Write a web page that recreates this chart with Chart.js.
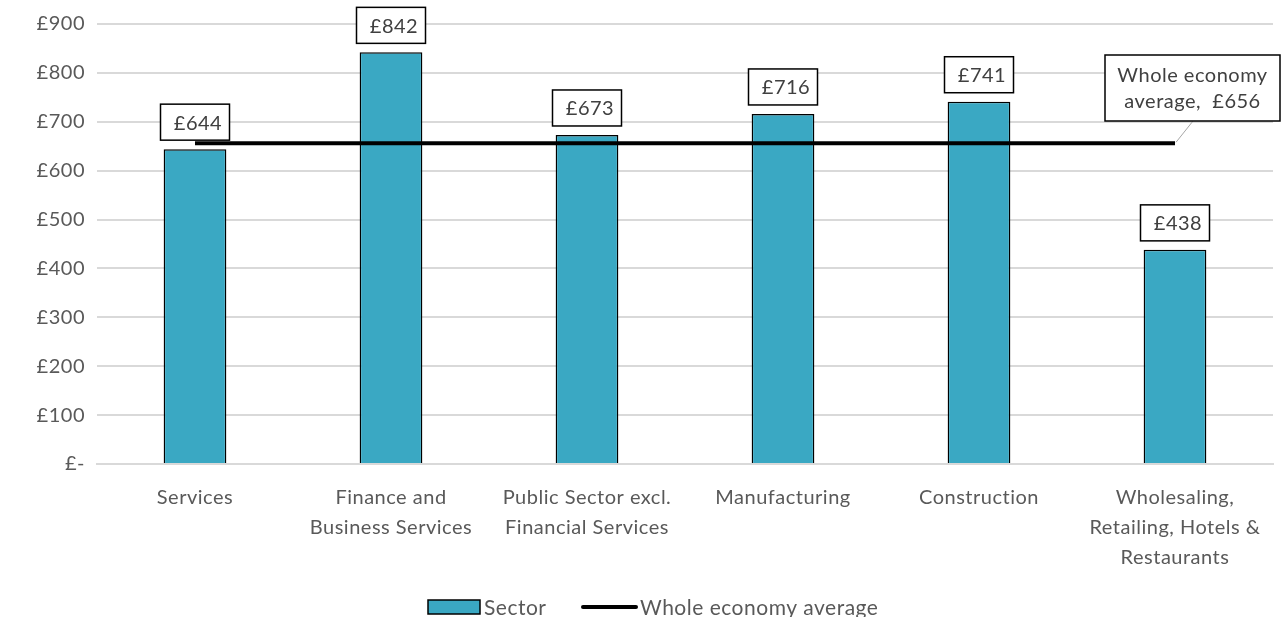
<!DOCTYPE html>
<html>
<head>
<meta charset="utf-8">
<script src="https://cdn.jsdelivr.net/npm/chart.js@4"></script>
<style>
  html, body { margin: 0; padding: 0; background: #fff; }
  #wrap { width: 1287px; height: 617px; }
</style>
</head>
<body>
<div id="wrap"><canvas id="myChart" width="1287" height="617"></canvas></div>
<script>
const categories = [
  'Services',
  ['Finance and', 'Business Services'],
  ['Public Sector excl.', 'Financial Services'],
  'Manufacturing',
  'Construction',
  ['Wholesaling,', 'Retailing, Hotels &', 'Restaurants']
];
const sectorPay = [644, 842, 673, 716, 741, 438];
const wholeEconomy = [656, 656, 656, 656, 656, 656];
const averageLabel = ['Whole economy', 'average,  £656'];

const FONT = 'Lato, "Liberation Sans", sans-serif';
const TEAL = '#3aa8c3';
const SPACING = '0.5px';

const spacing = {
  id: 'spacing',
  beforeInit(chart) { chart.ctx.letterSpacing = SPACING; },
  beforeDraw(chart) { chart.ctx.letterSpacing = SPACING; }
};

const boxedLabels = {
  id: 'boxedLabels',
  afterDatasetsDraw(chart) {
    const ctx = chart.ctx;
    ctx.save();
    ctx.letterSpacing = SPACING;
    ctx.font = '20px ' + FONT;
    ctx.textAlign = 'center';
    ctx.textBaseline = 'middle';
    chart.getDatasetMeta(0).data.forEach((bar, i) => {
      const txt = '£' + sectorPay[i];
      const w = 69, h = 36;
      const x = bar.x - w / 2, y = bar.y - 9 - h;
      ctx.fillStyle = '#fff';
      ctx.fillRect(x, y, w, h);
      ctx.strokeStyle = '#000';
      ctx.lineWidth = 1.5;
      ctx.strokeRect(x, y, w, h);
      ctx.fillStyle = '#404040';
      ctx.fillText(txt, bar.x + 3, y + h / 2 + 1);
    });

    // average label with leader line
    const pts = chart.getDatasetMeta(1).data;
    const last = pts[pts.length - 1];
    const bx = 1105, by = 55, bw = 175, bh = 66;
    ctx.strokeStyle = '#a6a6a6';
    ctx.lineWidth = 1;
    ctx.beginPath();
    ctx.moveTo(bx + 88, by + bh);
    ctx.lineTo(last.x + 1, last.y - 1);
    ctx.stroke();
    ctx.fillStyle = '#fff';
    ctx.fillRect(bx, by, bw, bh);
    ctx.strokeStyle = '#000';
    ctx.lineWidth = 1.5;
    ctx.strokeRect(bx, by, bw, bh);
    ctx.fillStyle = '#404040';
    ctx.fillText(averageLabel[0], bx + bw / 2, by + 21);
    ctx.fillText(averageLabel[1], bx + bw / 2, by + 47);

    // legend
    const ly = 607;
    ctx.fillStyle = TEAL;
    ctx.fillRect(428, ly - 7, 52, 14);
    ctx.strokeStyle = '#000';
    ctx.lineWidth = 1.5;
    ctx.strokeRect(428, ly - 7, 52, 14);
    ctx.lineWidth = 4;
    ctx.lineCap = 'round';
    ctx.beginPath();
    ctx.moveTo(583, ly);
    ctx.lineTo(636, ly);
    ctx.stroke();
    ctx.fillStyle = '#595959';
    ctx.textAlign = 'left';
    ctx.font = '21px ' + FONT;
    ctx.fillText('Sector', 484, ly + 1);
    ctx.fillText('Whole economy average', 640, ly + 1);
    ctx.restore();
  }
};

new Chart(document.getElementById('myChart'), {
  data: {
    labels: categories,
    datasets: [
      {
        type: 'bar',
        label: 'Sector',
        data: sectorPay,
        backgroundColor: TEAL,
        borderColor: '#000',
        borderWidth: 1.5,
        barPercentage: 0.32,
        categoryPercentage: 1,
        order: 1
      },
      {
        type: 'line',
        label: 'Whole economy average',
        data: wholeEconomy,
        borderColor: '#000',
        borderWidth: 4,
        pointRadius: 0,
        fill: false,
        order: 0
      }
    ]
  },
  options: {
    responsive: false,
    animation: false,
    layout: { padding: { top: 22, right: 14, bottom: 0, left: 0 } },
    plugins: {
      legend: { display: false },
      tooltip: { enabled: false }
    },
    scales: {
      x: {
        grid: { display: false },
        border: { color: '#d9d9d9', width: 2 },
        ticks: {
          color: '#595959',
          font: { family: FONT, size: 20, lineHeight: 1.5 },
          maxRotation: 0,
          padding: 11
        },
        afterFit(scale) { scale.height = 153; }
      },
      y: {
        min: 0,
        max: 900,
        ticks: {
          stepSize: 100,
          color: '#595959',
          font: { family: FONT, size: 20 },
          padding: 12,
          callback: v => v === 0 ? '£-' : '£' + v
        },
        grid: { color: '#d9d9d9', lineWidth: 2, drawTicks: false },
        border: { display: false },
        afterFit(scale) { scale.width = 97; }
      }
    }
  },
  plugins: [spacing, boxedLabels]
});
</script>
</body>
</html>
